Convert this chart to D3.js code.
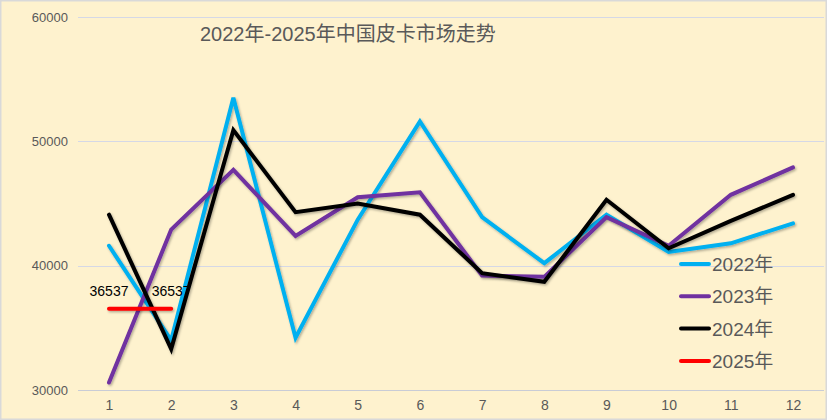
<!DOCTYPE html>
<html><head><meta charset="utf-8">
<script src="https://cdn.jsdelivr.net/npm/d3@7"></script>
<style>
html,body{margin:0;padding:0;background:#fff;}
svg{display:block;font-family:"Liberation Sans","Noto Sans CJK SC",sans-serif;}
</style></head>
<body>
<svg id="chart" width="827" height="420"></svg>
<script>
const months = ["1","2","3","4","5","6","7","8","9","10","11","12"];
const yTicks = [30000, 40000, 50000, 60000];
const seriesNames = ["2022年","2023年","2024年","2025年"];
const seriesColors = ["#00B0F0","#7030A0","#000000","#FF0000"];
const v2022 = [41600,34000,53500,34200,43700,51600,43900,40200,44100,41100,41800,43400];
const v2023 = [30600,42900,47700,42400,45500,45900,39200,39100,43900,41600,45700,47900];
const v2024 = [44100,33300,50900,44300,45000,44100,39400,38700,45300,41400,43600,45700];
const v2025 = [36537,36537];
const title = "2022年-2025年中国皮卡市场走势";

const seriesValues = [v2022, v2023, v2024, v2025];

const svg = d3.select("#chart");
svg.append("rect").attr("x",0.5).attr("y",0.5).attr("width",826).attr("height",419)
  .attr("fill","#FEF2CE").attr("stroke","#D9D9D9").attr("stroke-width",2);

const x = d3.scalePoint().domain(months).range([109, 793]);
const y = d3.scaleLinear().domain([30000, 60000]).range([390, 17]);

const defs = svg.append("defs");
const f = defs.append("filter").attr("id","sh").attr("filterUnits","userSpaceOnUse")
  .attr("x",0).attr("y",0).attr("width",827).attr("height",420);
f.append("feDropShadow").attr("dx",1.2).attr("dy",1.5).attr("stdDeviation",1).attr("flood-color","#000").attr("flood-opacity",0.3);

// gridlines
svg.append("g").selectAll("line").data(yTicks).join("line")
  .attr("x1",78).attr("x2",824)
  .attr("y1",d=>Math.round(y(d))+0.5).attr("y2",d=>Math.round(y(d))+0.5)
  .attr("stroke",d=>d===30000?"#C9CCD6":"#D5D8E6").attr("stroke-width",1.2);

// y axis labels
const yAxis = d3.axisLeft(y).tickValues(yTicks).tickSize(0).tickPadding(0).tickFormat(d3.format("d"));
const ya = svg.append("g").attr("transform","translate(68,0)").call(yAxis);
ya.select(".domain").remove();
ya.selectAll("text").attr("font-size",13).attr("fill","#595959").attr("font-family","Liberation Sans, sans-serif");

// x axis labels
const xAxis = d3.axisBottom(x).tickSize(0).tickPadding(0);
const xa = svg.append("g").attr("transform","translate(0,400)").call(xAxis);
xa.select(".domain").remove();
xa.selectAll("text").attr("font-size",14).attr("fill","#595959").attr("dy","0.71em").attr("font-family","Liberation Sans, sans-serif");

// lines
const line = d3.line().x((d,i)=>x(months[i])).y(d=>y(d));
seriesValues.forEach((vals,si)=>{
  svg.append("path").datum(vals)
    .attr("d",line).attr("fill","none")
    .attr("stroke",seriesColors[si]).attr("stroke-width",4)
    .attr("stroke-linejoin","miter").attr("stroke-linecap","round")
    .attr("filter","url(#sh)");
});

// data labels for 2025
svg.append("g").selectAll("text").data(v2025).join("text")
  .attr("x",(d,i)=>x(months[i])).attr("y",d=>y(d)-12.5)
  .attr("text-anchor","middle").attr("font-size",14).attr("fill","#000")
  .text(d=>d);

// title
svg.append("text").attr("x",200).attr("y",41).attr("font-size",20).attr("fill","#595959")
  .text(title);

// legend
const lg = svg.append("g");
seriesNames.forEach((n,i)=>{
  const yy = 264 + i*32.3;
  lg.append("line").attr("x1",681).attr("x2",709).attr("y1",yy).attr("y2",yy)
    .attr("stroke",seriesColors[i]).attr("stroke-width",4).attr("stroke-linecap","round");
  lg.append("text").attr("x",712).attr("y",yy+7).attr("font-size",19).attr("fill","#595959").text(n);
});
</script>
</body></html>
